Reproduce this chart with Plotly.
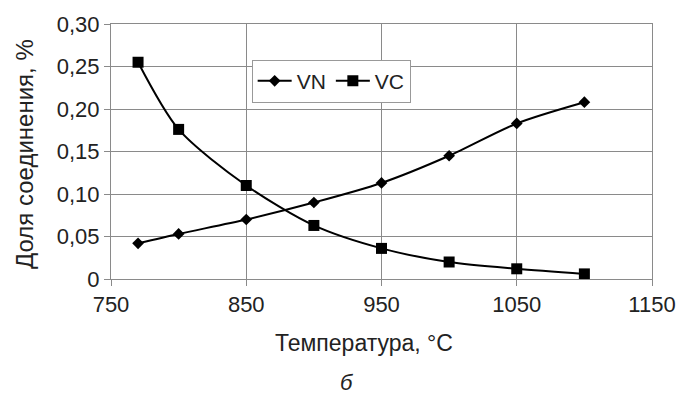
import plotly.graph_objects as go

temps = [770, 800, 850, 900, 950, 1000, 1050, 1100]
vn = [0.042, 0.053, 0.070, 0.090, 0.113, 0.145, 0.183, 0.208]
vc = [0.255, 0.176, 0.110, 0.063, 0.036, 0.020, 0.012, 0.006]

y_tickvals = [0, 0.05, 0.10, 0.15, 0.20, 0.25, 0.30]
y_ticktext = ["0", "0,05", "0,10", "0,15", "0,20", "0,25", "0,30"]
x_tickvals = [750, 850, 950, 1050, 1150]

FONT = "Liberation Sans, Arial, sans-serif"
GRID = "#8a8a8a"
TXT = "#222222"

fig = go.Figure()
fig.add_trace(go.Scatter(
    x=temps, y=vn, name="VN", mode="lines+markers",
    line=dict(color="black", width=2, shape="spline", smoothing=0.8),
    marker=dict(symbol="diamond", size=9, color="black"),
))
fig.add_trace(go.Scatter(
    x=temps, y=vc, name="VC", mode="lines+markers",
    line=dict(color="black", width=2, shape="spline", smoothing=0.8),
    marker=dict(symbol="square", size=11, color="black"),
))

fig.update_layout(
    width=692, height=397,
    margin=dict(l=111, r=40, t=21, b=118),
    paper_bgcolor="white", plot_bgcolor="white",
    font=dict(family=FONT, size=22, color=TXT),
    showlegend=True,
    legend=dict(
        orientation="h", x=0.26, y=0.86, xanchor="left", yanchor="top",
        bordercolor="#999999", borderwidth=1, bgcolor="white",
        font=dict(size=21, color=TXT), itemwidth=34,
    ),
    xaxis=dict(
        range=[750, 1150], tickvals=x_tickvals,
        showgrid=True, gridcolor=GRID, gridwidth=1,
        showline=True, linecolor=GRID, linewidth=1, mirror=True,
        ticks="outside", ticklen=6, tickcolor=GRID,
        zeroline=False, tickfont=dict(size=22, color=TXT),
    ),
    yaxis=dict(
        range=[0, 0.30], tickvals=y_tickvals, ticktext=y_ticktext,
        showgrid=True, gridcolor=GRID, gridwidth=1,
        showline=True, linecolor=GRID, linewidth=1, mirror=True,
        ticks="outside", ticklen=6, tickcolor=GRID,
        zeroline=False, tickfont=dict(size=22, color=TXT),
    ),
    annotations=[
        dict(text="Доля соединения, %", textangle=-90,
             xref="paper", yref="paper", x=(24 - 111) / 541, y=0.49,
             xanchor="center", yanchor="middle", showarrow=False,
             font=dict(size=24, color=TXT)),
        dict(text="Температура, °C",
             xref="paper", yref="paper", x=(364 - 111) / 541, y=-(344 - 279) / 258,
             xanchor="center", yanchor="middle", showarrow=False,
             font=dict(size=23, color=TXT)),
        dict(text="<i>б</i>",
             xref="paper", yref="paper", x=(347 - 111) / 541, y=-(384 - 279) / 258,
             xanchor="center", yanchor="middle", showarrow=False,
             font=dict(size=22, color=TXT)),
    ],
)

fig.write_html("out.html")
